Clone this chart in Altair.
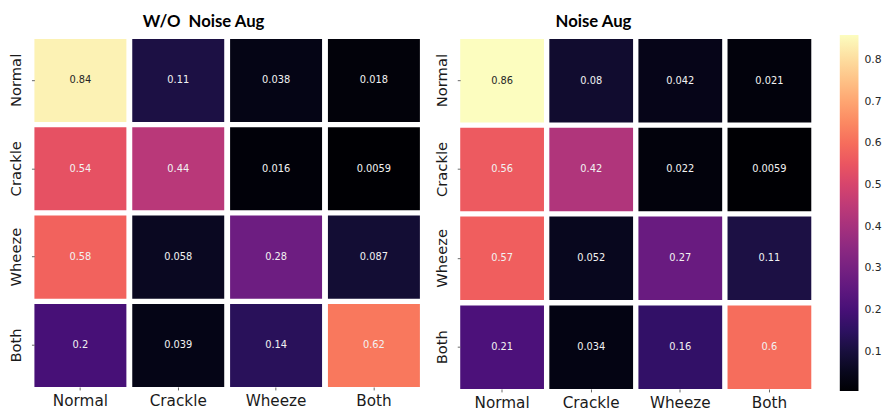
import altair as alt
import pandas as pd

# Confusion matrices (rows: true class, columns: predicted class)
classes = ["Normal", "Crackle", "Wheeze", "Both"]

without_aug = [
    [0.84, 0.11, 0.038, 0.018],
    [0.54, 0.44, 0.016, 0.0059],
    [0.58, 0.058, 0.28, 0.087],
    [0.2, 0.039, 0.14, 0.62],
]

with_aug = [
    [0.86, 0.08, 0.042, 0.021],
    [0.56, 0.42, 0.022, 0.0059],
    [0.57, 0.052, 0.27, 0.11],
    [0.21, 0.034, 0.16, 0.6],
]

colorbar_ticks = [0.1, 0.2, 0.3, 0.4, 0.5, 0.6, 0.7, 0.8]
value_range = [0.0059, 0.86]


def to_frame(matrix):
    rows = []
    for i, true_cls in enumerate(classes):
        for j, pred_cls in enumerate(classes):
            rows.append({"true": true_cls, "pred": pred_cls, "value": matrix[i][j]})
    return pd.DataFrame(rows)


color_scale = alt.Scale(scheme="magma", domain=value_range)

legend = alt.Legend(
    title=None,
    orient="none",
    legendX=819,
    legendY=-4,
    direction="vertical",
    gradientLength=362,
    gradientThickness=19,
    gradientStrokeWidth=0,
    values=colorbar_ticks,
    format=".1f",
    labelFont="DejaVu Sans",
    labelFontSize=11,
    labelColor="#262626",
    labelOffset=6,
    labelOverlap=False,
)


def heatmap(matrix, title, width, height, dx):
    df = to_frame(matrix)
    band = alt.Scale(paddingInner=0.06, paddingOuter=0)
    base = alt.Chart(df).encode(
        x=alt.X(
            "pred:N", sort=classes, title=None, scale=band,
            axis=alt.Axis(labelAngle=0, labelFontSize=15.5, labelPadding=4),
        ),
        y=alt.Y(
            "true:N", sort=classes, title=None, scale=band,
            axis=alt.Axis(
                labelAngle=-90, labelAlign="center", labelBaseline="bottom",
                labelPadding=8,
            ),
        ),
    )
    cells = base.mark_rect().encode(
        color=alt.Color("value:Q", scale=color_scale, legend=legend)
    )
    labels = base.mark_text(font="DejaVu Sans", fontSize=10).encode(
        text=alt.Text("value:Q", format=".2~g"),
        color=alt.condition(alt.datum.value > 0.7, alt.value("#262626"), alt.value("#f2f2f2")),
    )
    return alt.layer(cells, labels).properties(
        width=width,
        height=height,
        title=alt.TitleParams(title, dx=dx),
    )


left = heatmap(without_aug, "W/O\u00a0 Noise Aug", 392, 354, -24)
right = heatmap(with_aug, "Noise Aug", 357, 356, -43)

chart = (
    alt.hconcat(left, right, spacing=14)
    .properties(padding={"left": 8, "top": 10, "right": 5, "bottom": 5})
    .configure_view(stroke=None)
    .configure_axis(
        domain=False,
        tickSize=3,
        tickColor="#666666",
        labelFont="DejaVu Sans",
        labelFontSize=15,
        labelColor="#1a1a1a",
    )
    .configure_title(
        font="Lato",
        fontSize=17,
        fontWeight="bold",
        color="black",
        anchor="middle",
        offset=8,
    )
)

chart.save("out.html", embed_options={"renderer": "svg", "actions": False})
